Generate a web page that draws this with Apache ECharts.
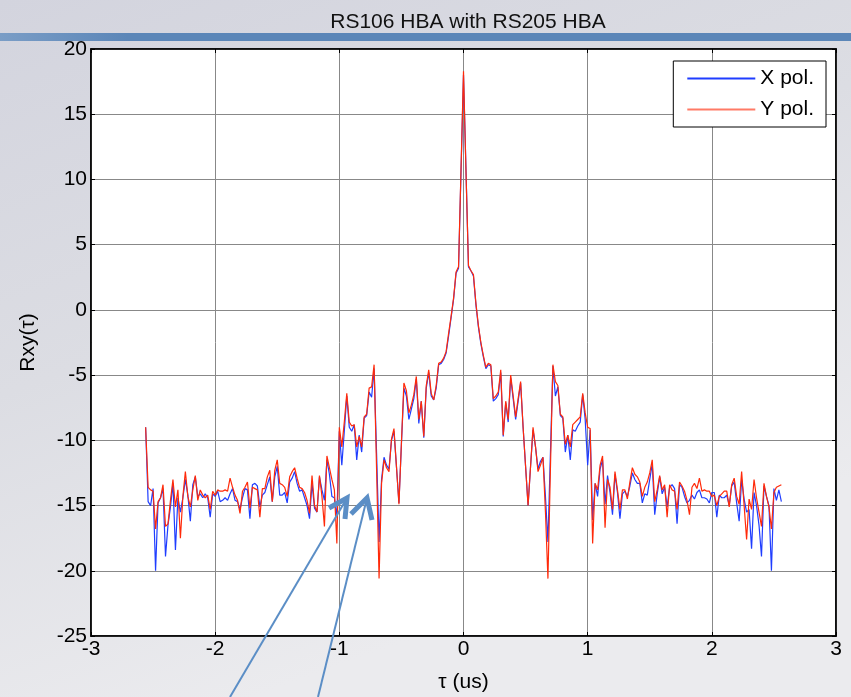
<!DOCTYPE html>
<html>
<head>
<meta charset="utf-8">
<title>RS106 HBA with RS205 HBA</title>
<script src="https://cdn.jsdelivr.net/npm/echarts@6/dist/echarts.min.js"></script>
<style>
  html, body { margin: 0; padding: 0; }
  #chart { width: 851px; height: 697px; }
</style>
</head>
<body>
<div id="chart"></div>
<script>
  // lag samples: -2.56 us .. 2.56 us, 0.02 us apart
  var tauStart = -2.56;
  var tauStep = 0.02;

  var xPol = [
    -9.0, -14.7, -15.0, -13.7, -20.0, -14.8, -14.4, -13.7, -18.9, -16.5,
    -15.1, -13.3, -18.4, -14.4, -15.5, -14.4, -13.0, -14.2, -16.2, -13.4,
    -12.8, -14.3, -14.1, -14.4, -14.1, -14.4, -15.9, -14.1, -14.3, -13.9,
    -14.7, -14.6, -14.4, -14.6, -14.1, -13.7, -14.6, -14.7, -15.3, -14.4,
    -13.7, -13.8, -16.0, -13.4, -13.3, -13.5, -15.1, -14.2, -14.0, -13.4,
    -12.8, -14.7, -12.8, -12.0, -14.2, -14.2, -14.0, -14.8, -13.2, -12.9,
    -12.4, -13.3, -13.9, -13.8, -14.4, -15.0, -16.0, -13.3, -15.2, -15.5,
    -12.8, -13.8, -14.6, -11.5, -12.6, -14.3, -14.4, -15.9, -9.3, -11.9,
    -9.3, -6.6, -9.0, -9.3, -8.8, -11.5, -9.6, -10.9, -8.3, -8.1,
    -6.3, -6.7, -4.5, -11.0, -17.8, -13.0, -11.3, -11.9, -12.2, -10.0,
    -9.3, -12.0, -14.8, -10.3, -6.0, -6.6, -8.4, -7.6, -6.8, -5.3,
    -8.7, -7.0, -9.8, -6.0, -4.8, -6.6, -6.9, -6.0, -4.2, -4.1,
    -3.8, -3.3, -2.0, -0.6, 0.8, 2.8, 3.2, 10.6, 18.0, 10.7,
    3.3, 3.0, 2.6, 0.4, -1.3, -2.6, -3.6, -4.5, -4.2, -4.3,
    -7.0, -6.8, -6.5, -4.8, -9.7, -7.1, -8.6, -5.2, -6.8, -8.4,
    -7.0, -5.6, -9.0, -12.0, -15.0, -12.0, -9.2, -10.5, -12.2, -11.6,
    -11.3, -14.3, -17.8, -11.0, -4.3, -6.6, -5.9, -8.1, -8.3, -10.9,
    -9.6, -11.5, -9.2, -9.3, -8.9, -8.6, -6.5, -8.4, -11.9, -9.2,
    -16.1, -13.3, -14.3, -12.2, -11.5, -14.9, -12.7, -14.0, -15.7, -12.6,
    -14.0, -16.0, -14.1, -13.9, -14.3, -13.5, -12.5, -13.0, -13.3, -13.3,
    -14.8, -14.1, -14.2, -13.0, -11.8, -15.7, -14.1, -12.8, -14.1, -13.6,
    -15.1, -13.6, -13.4, -13.7, -16.4, -13.4, -13.6, -14.3, -14.8, -14.6,
    -14.2, -14.5, -14.0, -13.8, -14.4, -14.4, -14.5, -14.8, -14.0, -14.0,
    -15.9, -14.2, -14.4, -14.4, -14.2, -15.0, -13.5, -13.2, -14.8, -16.2,
    -13.0, -14.5, -15.5, -15.3, -18.3, -14.0, -15.0, -16.5, -18.9, -13.5,
    -14.3, -15.0, -20.0, -13.7, -14.6, -13.8, -14.7
  ];

  var yPol = [
    -9.0, -13.6, -13.8, -13.9, -16.8, -14.7, -14.4, -13.4, -16.6, -16.4,
    -14.6, -13.0, -15.1, -13.8, -17.5, -14.3, -12.4, -14.3, -15.1, -13.8,
    -12.7, -14.6, -13.8, -14.2, -14.4, -14.2, -15.3, -13.9, -14.2, -13.8,
    -13.9, -13.9, -13.8, -13.9, -12.9, -13.6, -14.2, -14.6, -15.6, -13.9,
    -13.6, -13.2, -15.2, -13.6, -13.7, -13.8, -15.9, -13.7, -13.7, -12.8,
    -12.3, -14.7, -12.3, -11.5, -13.3, -13.4, -13.6, -14.3, -12.8, -12.4,
    -12.1, -12.9, -13.6, -13.7, -14.0, -14.6, -15.6, -12.7, -15.0, -15.5,
    -12.7, -14.3, -16.6, -11.2, -12.1, -13.0, -13.8, -17.9, -9.0, -10.5,
    -8.6, -6.4, -8.6, -8.9, -8.8, -10.5, -9.7, -10.5, -8.2, -8.0,
    -6.0, -5.9, -4.2, -12.2, -20.6, -13.3, -11.5, -12.1, -12.4, -9.9,
    -9.1, -12.0, -14.9, -10.2, -5.6, -6.2, -7.9, -7.3, -6.5, -5.1,
    -8.4, -7.0, -9.7, -5.8, -4.6, -6.4, -6.9, -5.8, -4.1, -4.0,
    -3.7, -3.2, -1.8, -0.5, 0.9, 2.9, 3.3, 10.8, 18.3, 10.6,
    3.4, 3.0, 2.7, 0.5, -1.2, -2.5, -3.5, -4.4, -4.1, -4.2,
    -6.8, -6.6, -6.3, -4.6, -9.6, -7.0, -8.4, -5.0, -6.6, -8.2,
    -6.8, -5.5, -9.0, -12.0, -15.0, -12.0, -9.0, -10.5, -12.4, -11.9,
    -11.3, -15.5, -20.6, -12.2, -4.2, -5.5, -5.8, -8.0, -8.2, -10.3,
    -9.6, -10.5, -8.8, -8.6, -8.4, -8.2, -6.4, -7.9, -9.0, -9.1,
    -17.9, -13.3, -13.8, -11.9, -11.2, -16.7, -13.0, -13.6, -15.3, -12.4,
    -13.8, -15.3, -13.8, -13.8, -14.5, -13.2, -12.1, -12.6, -12.8, -13.2,
    -14.3, -13.6, -13.2, -12.5, -11.5, -14.7, -13.8, -12.7, -13.8, -13.4,
    -15.9, -13.4, -13.8, -13.9, -15.3, -13.2, -13.5, -13.9, -14.6, -15.7,
    -13.6, -13.3, -13.7, -12.9, -13.9, -13.8, -13.9, -13.9, -14.3, -14.2,
    -15.0, -14.3, -14.1, -13.9, -13.9, -15.1, -13.4, -12.9, -14.3, -14.9,
    -12.4, -15.0, -17.6, -14.5, -15.3, -13.0, -14.4, -15.5, -16.6, -13.3,
    -14.3, -15.1, -16.8, -14.0, -13.6, -13.5, -13.4
  ];

  var xTicks = [-3, -2, -1, 0, 1, 2, 3];
  var yTicks = [-25, -20, -15, -10, -5, 0, 5, 10, 15, 20];

  function pairs(vals) {
    return vals.map(function (v, i) {
      return [+(tauStart + i * tauStep).toFixed(2), v];
    });
  }

  var chart = echarts.init(document.getElementById('chart'));
  var font = 'Liberation Sans, Arial, sans-serif';
  var fs = 21;
  var gridLine = { show: true, lineStyle: { color: '#888', width: 1 } };
  var frame = { show: true, onZero: false, lineStyle: { color: '#000', width: 1.5 } };
  var tick = { inside: true, length: 4, lineStyle: { color: '#000' } };

  var option = {
    backgroundColor: {
      type: 'linear', x: 0, y: 0, x2: 0.3, y2: 1,
      colorStops: [
        { offset: 0, color: '#d3d4de' },
        { offset: 0.5, color: '#dcdde3' },
        { offset: 1, color: '#ebebee' }
      ]
    },
    animation: false,
    title: {
      text: 'RS106 HBA with RS205 HBA',
      left: 463, top: 7, textAlign: 'center',
      textStyle: { fontFamily: font, fontSize: fs, fontWeight: 'normal', color: '#111' }
    },
    legend: {
      orient: 'vertical', right: 25, top: 61,
      backgroundColor: '#fff', borderColor: '#000', borderWidth: 1,
      padding: [7, 12, 7, 14], itemGap: 10,
      itemWidth: 68, itemHeight: 2, icon: 'rect',
      textStyle: { fontFamily: font, fontSize: fs, color: '#000' },
      data: ['X pol.', 'Y pol.']
    },
    grid: {
      left: 91, right: 15, top: 49, bottom: 61, outerBoundsMode: 'none',
      show: true, borderColor: '#000', borderWidth: 1.5, backgroundColor: '#fff'
    },
    xAxis: [{
      type: 'value', min: xTicks[0], max: xTicks[xTicks.length - 1], interval: 1,
      name: 'τ (us)', nameLocation: 'middle', nameGap: 36,
      nameTextStyle: { fontFamily: font, fontSize: fs, color: '#000' },
      axisLine: frame, axisTick: tick,
      axisLabel: { fontFamily: font, fontSize: fs, color: '#000', margin: 3 },
      splitLine: gridLine
    }, {
      type: 'value', position: 'top', min: xTicks[0], max: xTicks[xTicks.length - 1], interval: 1,
      axisLine: frame, axisTick: tick,
      axisLabel: { show: false }, splitLine: { show: false }
    }],
    yAxis: [{
      type: 'value', min: yTicks[0], max: yTicks[yTicks.length - 1], interval: 5,
      name: 'Rxy(τ)', nameLocation: 'middle', nameGap: 52, nameRotate: 90,
      nameTextStyle: { fontFamily: font, fontSize: fs, color: '#000' },
      axisLine: frame, axisTick: tick,
      axisLabel: { fontFamily: font, fontSize: fs, color: '#000', margin: 4 },
      splitLine: gridLine
    }, {
      type: 'value', position: 'right', min: yTicks[0], max: yTicks[yTicks.length - 1], interval: 5,
      axisLine: frame, axisTick: tick,
      axisLabel: { show: false }, splitLine: { show: false }
    }],
    series: [{
      name: 'X pol.', type: 'line', data: pairs(xPol), showSymbol: false, symbol: 'none',
      lineStyle: { color: '#1f3dff', width: 1.2 }, itemStyle: { color: '#1f3dff' }
    }, {
      name: 'Y pol.', type: 'line', data: pairs(yPol), showSymbol: false, symbol: 'none',
      lineStyle: { color: '#ff2a0a', width: 1.2 }, itemStyle: { color: '#ff7a66' }
    }],
    graphic: [
      // slide header bar
      { type: 'rect', shape: { x: 0, y: 33, width: 851, height: 8 }, silent: true, z: 100,
        style: { fill: { type: 'linear', x: 0, y: 0, x2: 1, y2: 0,
          colorStops: [{ offset: 0, color: '#7a9dc6' }, { offset: 0.15, color: '#5b86b8' }, { offset: 1, color: '#5b86b8' }] } } },
      // annotation arrows
      { type: 'line', shape: { x1: 230, y1: 697, x2: 347, y2: 498 }, z: 100, style: { stroke: '#5b8ec6', lineWidth: 2 } },
      { type: 'polyline', shape: { points: [[329, 508], [347, 498], [345, 519]] }, z: 100,
        style: { stroke: '#5b8ec6', lineWidth: 5, fill: null, lineJoin: 'miter' } },
      { type: 'line', shape: { x1: 318, y1: 697, x2: 367, y2: 498 }, z: 100, style: { stroke: '#5b8ec6', lineWidth: 2 } },
      { type: 'polyline', shape: { points: [[351, 514], [367, 498], [372, 520]] }, z: 100,
        style: { stroke: '#5b8ec6', lineWidth: 5, fill: null, lineJoin: 'miter' } }
    ]
  };
  chart.setOption(option);
</script>
</body>
</html>
